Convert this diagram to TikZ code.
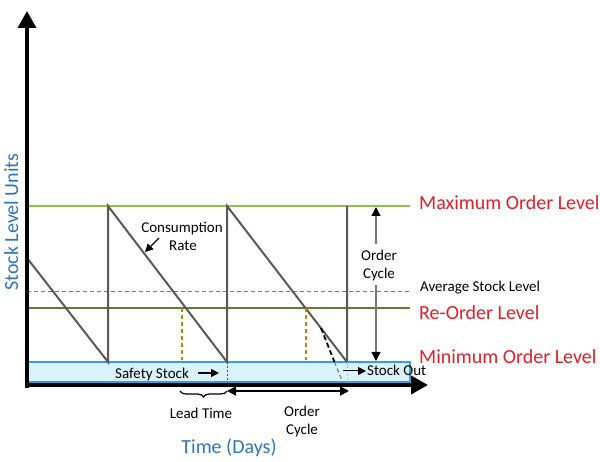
\documentclass[tikz,border=0pt]{standalone}
\usepackage{fontspec}
\setmainfont{Carlito}
\usetikzlibrary{arrows.meta,decorations.pathreplacing}
\definecolor{maxg}{RGB}{146,192,80}
\definecolor{reog}{RGB}{94,124,52}
\definecolor{saw}{RGB}{89,89,89}
\definecolor{goldd}{RGB}{184,134,11}
\definecolor{lblred}{RGB}{228,30,40}
\definecolor{lblblue}{RGB}{46,117,182}
\definecolor{ssfill}{RGB}{218,242,251}
\definecolor{ssdraw}{RGB}{49,160,214}
\definecolor{midgray}{RGB}{120,120,120}
\begin{document}
\begin{tikzpicture}[x=1pt,y=-1pt,
  smalltxt/.style={font=\fontsize{15}{17}\selectfont, inner sep=0pt, anchor=base},
  bigred/.style={font=\fontsize{20}{24}\selectfont, inner sep=0pt, anchor=base west, text=lblred},
  bigblue/.style={font=\fontsize{20}{24}\selectfont, inner sep=0pt, anchor=base, text=lblblue},
  sawline/.style={draw=saw, line width=2pt},
  golddash/.style={draw=goldd, line width=1.6pt, dash pattern=on 4pt off 3pt},
  axisline/.style={line width=4pt, -{Triangle[length=17pt,width=18pt]}},
  tip/.style={-{Triangle[length=8pt,width=8pt]}},
  dtip/.style={{Triangle[length=9pt,width=9pt,color=black]}-{Triangle[length=9pt,width=9pt,color=black]}}]
\useasboundingbox (0,0) rectangle (600,462);
% level positions
\coordinate (L0) at (27,206); \coordinate (R0) at (410,206);
\coordinate (L1) at (27,292); \coordinate (R1) at (410,292);
\coordinate (L2) at (27,308); \coordinate (R2) at (410,308);
% safety stock band
\draw[fill=ssfill, draw=ssdraw, line width=1.5pt] (27,362) rectangle (410,382);
% level lines
\draw[maxg, line width=2pt] (L0) -- (R0);
\draw[midgray, line width=1pt, dash pattern=on 4pt off 3pt] (L1) -- (R1);
\draw[reog, line width=2pt] (L2) -- (R2);
% sawtooth
\coordinate (s0) at (27,258);
\coordinate (b1) at (108,362); \coordinate (t1) at (108,206);
\coordinate (b2) at (227,362); \coordinate (t2) at (227,206);
\coordinate (b3) at (347,362); \coordinate (t3) at (347,206);
\draw[sawline, line join=miter] (s0) -- (b1) -- (t1) -- (b2) -- (t2) -- (b3) -- (t3);
% lead time dashed
\coordinate (g1a) at (182,308); \coordinate (g1b) at (182,360);
\coordinate (g2a) at (306,308); \coordinate (g2b) at (306,360);
\draw[golddash] (g1a) -- (g1b);
\draw[golddash] (g2a) -- (g2b);
% stock out projection
\coordinate (d0) at (321,328); \coordinate (d1) at (334.5,362); \coordinate (d2) at (343,383);
\draw[black, line width=1.8pt, dash pattern=on 5pt off 3pt] (d0) -- (d1);
\draw[midgray!70!ssdraw, line width=1.2pt, dash pattern=on 4pt off 3pt] (d1) -- (d2);
% dotted verticals in band
\coordinate (v1a) at (227,362); \coordinate (v1b) at (227,383);
\coordinate (v2a) at (347,362); \coordinate (v2b) at (347,383);
\draw[ssdraw!60!black, line width=0.8pt, dash pattern=on 2pt off 2pt] (v1a) -- (v1b);
\draw[ssdraw!60!white, line width=0.8pt, dash pattern=on 2pt off 2pt] (v2a) -- (v2b);
% axes
\coordinate (ya) at (27,388); \coordinate (yb) at (27,11);
\coordinate (xa) at (25,385); \coordinate (xb) at (428,385);
\draw[axisline] (ya) -- (yb);
\draw[axisline] (xa) -- (xb);
% right order cycle arrow
\coordinate (oc1) at (376,207); \coordinate (oc2) at (376,361);
\draw[midgray, line width=1.5pt, dtip] (oc1) -- (oc2);
\fill[white] (360,244) rectangle (398,285);
\node[smalltxt] (ocr1) at (379,261) {Order};
\node[smalltxt] (ocr2) at (379,279) {Cycle};
% consumption rate
\node[smalltxt] (cr1) at (182,233) {Consumption};
\node[smalltxt] (cr2) at (183,251) {Rate};
\coordinate (ca) at (159,238); \coordinate (cb) at (145,252);
\draw[black, line width=1.2pt, tip] (ca) -- (cb);
% safety stock
\node[smalltxt] (ss) at (152,378) {Safety Stock};
\coordinate (ssa) at (198,373); \coordinate (ssb) at (219,373);
\draw[black, line width=1.2pt, tip] (ssa) -- (ssb);
% stock out
\coordinate (soa) at (343,371); \coordinate (sob) at (366,371);
\draw[black, line width=1pt, tip] (soa) -- (sob);
\node[smalltxt, anchor=base west] (so) at (367,376) {Stock Out};
% lead time brace
\coordinate (lta) at (180,391); \coordinate (ltb) at (227,391);
\draw[black, line width=1.2pt, decorate, decoration={brace, mirror, amplitude=6pt}] (lta) -- (ltb);
\node[smalltxt] (lt) at (201,418) {Lead Time};
% lower order cycle arrow
\coordinate (oa) at (227,391); \coordinate (ob) at (349,391);
\draw[black, line width=1.8pt, dtip] (oa) -- (ob);
\node[smalltxt] (oc3) at (302,416) {Order};
\node[smalltxt] (oc4) at (302,434) {Cycle};
% right labels
\node[bigred] (mx) at (419,210) {Maximum Order Level};
\node[smalltxt, anchor=base west] (avg) at (420,292) {Average Stock Level};
\node[bigred] (ro) at (419,320) {Re-Order Level};
\node[bigred] (mn) at (419,364) {Minimum Order Level};
% axis titles
\node[bigblue] (tx) at (229,453) {Time (Days)};
\node[bigblue, rotate=90] (ty) at (18,222) {Stock Level Units};
\end{tikzpicture}
\end{document}
